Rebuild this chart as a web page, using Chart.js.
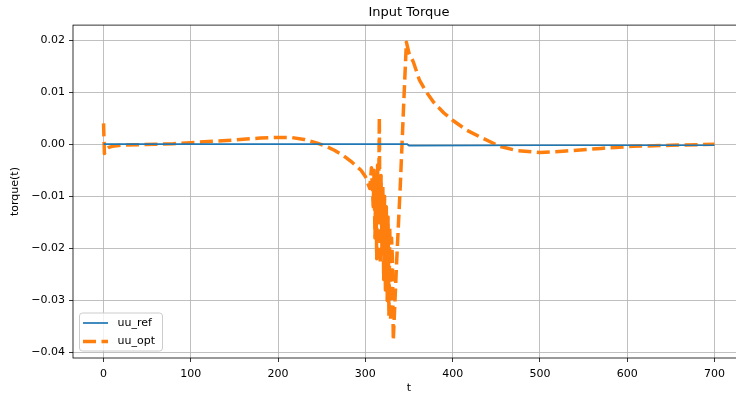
<!DOCTYPE html>
<html>
<head>
<meta charset="utf-8">
<script src="https://cdn.jsdelivr.net/npm/chart.js@4.4.1/dist/chart.umd.min.js"></script>
<style>
html,body{margin:0;padding:0;background:#fff;overflow:hidden;}
#wrap{width:760px;height:398px;}
</style>
</head>
<body>
<div id="wrap"><canvas id="c" width="760" height="398"></canvas></div>
<script>
// ---- data ----
const refT = [0, 348, 350, 500, 700];
const refU = [0, 0, -0.00025, -0.0002, -0.0002];

const optT = [0, 1, 3, 6, 10, 20, 40, 60, 80, 100, 120, 150, 180, 200, 215, 230, 245, 255, 265, 275, 285, 295, 300, 305,
  307, 309, 310, 311, 312, 313, 314, 315, 316, 317, 318, 319, 320, 321, 322, 323, 324, 325, 326, 327, 328, 329, 330, 331, 332,
  336, 340, 344, 347, 350, 355, 362, 370, 378, 390, 400, 416, 435, 454, 473, 500, 530, 570, 607, 650, 700];
const optU = [0.0040, -0.0018, -0.0010, -0.0006, -0.0004, -0.0002, -0.0001, 0.0000, 0.0001, 0.0003, 0.0005, 0.0008, 0.0012, 0.0013, 0.0013, 0.0009, 0.0002, -0.0004, -0.0012, -0.0022, -0.0035, -0.0050, -0.0062, -0.0085,
  -0.0045, -0.0120, -0.0050, -0.0180, -0.0060, -0.0220, -0.0040, -0.0150, 0.0052, -0.0230, -0.0060, -0.0200, -0.0080, -0.0260, -0.0100, -0.0280, -0.0120, -0.0300, -0.0140, -0.0330, -0.0160, -0.0340, -0.0180, -0.0220, -0.0377,
  -0.0220, -0.0080, 0.0080, 0.0196, 0.0175, 0.0158, 0.0123, 0.0100, 0.0081, 0.0060, 0.0046, 0.0027, 0.0011, -0.0004, -0.0012, -0.0016, -0.0013, -0.0008, -0.0004, -0.0002, 0.0000];

const xTicks = [0, 100, 200, 300, 400, 500, 600, 700];
const yTicks = [-0.04, -0.03, -0.02, -0.01, 0.00, 0.01, 0.02];

const FONT = "'DejaVu Sans', sans-serif";
Chart.defaults.font.family = FONT;
Chart.defaults.color = '#000';

const framePlugin = {
  id: 'frame',
  afterDraw(chart) {
    const {ctx, chartArea: a} = chart;
    ctx.save();
    ctx.strokeStyle = '#000';
    ctx.lineWidth = 0.8;
    ctx.strokeRect(a.left, a.top, a.right - a.left, a.bottom - a.top);
    // legend (lower left, inside axes)
    const ds = chart.data.datasets;
    const bx = a.left + 6.5, by = a.bottom - 7 - 38, bw = 83, bh = 38, r = 3;
    ctx.beginPath();
    ctx.moveTo(bx + r, by);
    ctx.arcTo(bx + bw, by, bx + bw, by + bh, r);
    ctx.arcTo(bx + bw, by + bh, bx, by + bh, r);
    ctx.arcTo(bx, by + bh, bx, by, r);
    ctx.arcTo(bx, by, bx + bw, by, r);
    ctx.closePath();
    ctx.fillStyle = 'rgba(255,255,255,0.8)';
    ctx.fill();
    ctx.strokeStyle = '#cccccc';
    ctx.lineWidth = 1;
    ctx.stroke();
    ds.forEach((d, i) => {
      const y = by + 10 + i * 18.5;
      ctx.beginPath();
      ctx.strokeStyle = d.borderColor;
      ctx.lineWidth = d.borderWidth;
      ctx.setLineDash(d.borderDash || []);
      ctx.lineCap = 'butt';
      ctx.moveTo(bx + 3.5, y);
      ctx.lineTo(bx + 28.5, y);
      ctx.stroke();
      ctx.setLineDash([]);
      ctx.fillStyle = '#000';
      ctx.font = '11px ' + FONT;
      ctx.textBaseline = 'middle';
      ctx.textAlign = 'left';
      ctx.fillText(d.label, bx + 38, y);
    });
    ctx.restore();
  }
};

new Chart(document.getElementById('c'), {
  type: 'line',
  data: {
    datasets: [
      { label: 'uu_ref', data: refT.map((t, i) => ({x: t, y: refU[i]})),
        borderColor: '#1f77b4', borderWidth: 1.7, pointRadius: 0, fill: false, tension: 0 },
      { label: 'uu_opt', data: optT.map((t, i) => ({x: t, y: optU[i]})),
        borderColor: '#ff7f0e', borderWidth: 3.5, borderDash: [13, 5.5], borderCapStyle: 'butt', borderJoinStyle: 'round',
        pointRadius: 0, fill: false, tension: 0 }
    ]
  },
  options: {
    responsive: false,
    animation: false,
    layout: { padding: { left: 0, right: 15, top: 0, bottom: 0 } },
    plugins: {
      legend: { display: false },
      tooltip: { enabled: false },
      title: { display: true, text: 'Input Torque', fullSize: false, color: '#000',
        font: { size: 13, weight: 'normal', family: FONT, lineHeight: 1.2 }, padding: { top: 4.5, bottom: 5 } }
    },
    scales: {
      x: {
        type: 'linear', min: -35, max: 735,
        afterBuildTicks: s => { s.ticks = xTicks.map(v => ({value: v})); },
        afterFit: s => { s.height = 40; },
        ticks: { font: { size: 11 }, padding: 6, maxRotation: 0, callback: v => String(v) },
        grid: { color: '#b0b0b0', lineWidth: 0.8, tickLength: 4, tickColor: '#000', drawOnChartArea: true },
        border: { display: false },
        title: { display: true, text: 't', font: { size: 11 }, padding: { top: 0, bottom: 3 } }
      },
      y: {
        type: 'linear', min: -0.04106, max: 0.02288,
        afterBuildTicks: s => { s.ticks = yTicks.map(v => ({value: v})); },
        afterFit: s => { s.width = 73; },
        ticks: { font: { size: 11 }, padding: 4,
          callback: v => (v < -1e-9 ? '\u2212' : '') + Math.abs(v).toFixed(2) },
        grid: { color: '#b0b0b0', lineWidth: 0.8, tickLength: 4, tickColor: '#000' },
        border: { display: false },
        title: { display: true, text: 'torque(t)', font: { size: 11 }, padding: { top: 9, bottom: 0 } }
      }
    }
  },
  plugins: [framePlugin]
});
</script>
</body>
</html>
